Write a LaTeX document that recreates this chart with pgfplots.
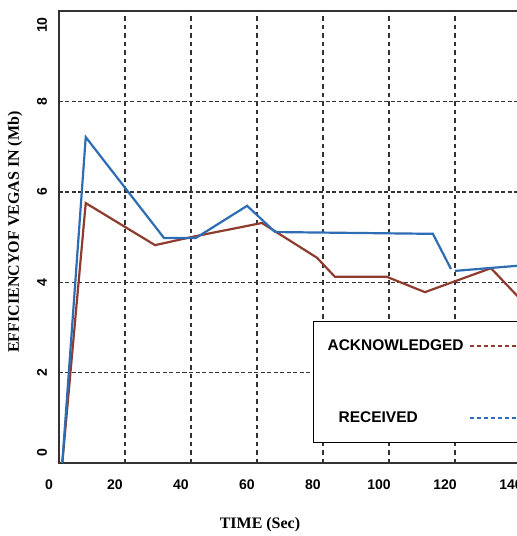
\documentclass[border=0pt]{standalone}
\usepackage{pgfplots}
\pgfplotsset{compat=1.18}
\usepackage{fontspec}
\setmainfont{Liberation Serif}
\newfontfamily\arialf{Liberation Sans}
\usetikzlibrary{calc}
\definecolor{recblue}{HTML}{2E6CB4}
\definecolor{ackred}{HTML}{8E3B30}
\begin{document}
\begin{tikzpicture}
\begin{axis}[name=ax, scale only axis, width=462pt, height=452pt,
 xmin=0, xmax=140, ymin=0, ymax=10,
 xtick={0,20,...,140}, ytick={2,4,6,8},
 extra y ticks={0.22,9.69}, extra y tick labels={0,10},
 extra y tick style={grid=none},
 grid=major,
 x grid style={black!80, line width=1.4pt, dash pattern=on 4.5pt off 4pt},
 y grid style={black!80, line width=1.4pt, dash pattern=on 4pt off 2.5pt},
 major tick length=0pt,
 axis line style={black!80, line width=1.4pt},
 /pgf/number format/assume math mode=true,
 ticklabel style={font=\arialf\bfseries\fontsize{14}{14}\selectfont},
 xticklabel style={anchor=center, yshift=-22pt, xshift=-10pt},
 yticklabel style={rotate=90, anchor=center, yshift=17pt},
 xlabel={TIME (Sec)},
 ylabel={EFFICIENCYOF VEGAS IN (Mb)},
 label style={font=\bfseries\fontsize{16}{16}\selectfont},
 xlabel style={at={(axis description cs:0.435,0)}, anchor=center, yshift=-62pt},
 ylabel style={at={(axis description cs:0,0.511)}, anchor=center, rotate=0, yshift=44pt},
 unbounded coords=jump,
 legend plot pos=right,
 legend cell align=left,
 legend style={at={(axis cs:77,3.14)}, anchor=north west, draw=black, line width=1pt, fill=white,
   font=\arialf\bfseries\fontsize{15.5}{15.5}\selectfont,
   inner xsep=12pt, inner ysep=16pt, row sep=56pt,
   /tikz/every odd column/.append style={column sep=3pt}},
 legend image code/.code={\draw[dash pattern=on 4pt off 3pt] (0pt,0pt) -- (50pt,0pt);},
]
\addplot[ackred, line width=2.2pt] coordinates {
 (1,0) (8.1,5.75) (29.1,4.82) (41.5,5.02) (61.5,5.31) (78.2,4.54) (83.6,4.12)
 (99.3,4.12) (110.9,3.78) (130.9,4.31) (140,3.61)};
\addlegendentry{ACKNOWLEDGED}
\addplot[recblue, line width=2.2pt] coordinates {
 (1,0) (8.1,7.21) (31.8,4.98) (41.5,4.98) (57,5.69) (65.5,5.11) (113.3,5.07)
 (118.8,4.29) (119.4,nan) (120,4.25) (140,4.37)};
\addlegendentry{\hspace*{11pt}RECEIVED}
\end{axis}
\pgfresetboundingbox
\path[use as bounding box] ($(ax.south west)+(-59pt,-73pt)$) rectangle ($(ax.north west)+(458pt,11pt)$);
\end{tikzpicture}
\end{document}
